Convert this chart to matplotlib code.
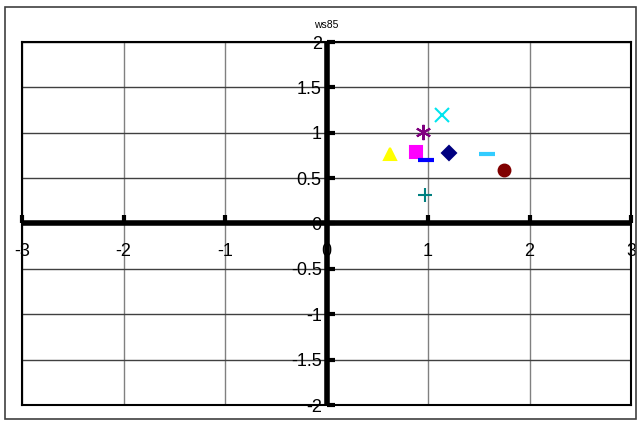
import matplotlib.pyplot as plt
from matplotlib.patches import Rectangle

# series values
x_vals = [1.14, 0.95, 0.63, 0.88, 0.98, 1.21, 1.58, 1.75, 0.97]
y_vals = [1.20, 1.01, 0.77, 0.79, 0.70, 0.78, 0.77, 0.59, 0.31]
markers = ['x', (6, 2, 0), '^', 's', '_', 'D', '_', 'o', '+']
colors = ['#00E5EE', '#800080', '#FFFF00', '#FF00FF', '#0000FF',
          '#000080', '#33CCFF', '#800000', '#008080']

x_ticks = [-3, -2, -1, 0, 1, 2, 3]
y_ticks = [-2, -1.5, -1, -0.5, 0, 0.5, 1, 1.5, 2]
title = 'ws85'


def fmt(v):
    return ('%g' % v)


def main():
    fig = plt.figure(figsize=(6.41, 4.23), dpi=100)
    plt.rcParams['font.family'] = ['Liberation Sans', 'DejaVu Sans']

    # outer chart border
    fig.patches.append(Rectangle((5 / 641, 4 / 423), 631 / 641, 412 / 423,
                                 transform=fig.transFigure, fill=False,
                                 edgecolor='#404040', linewidth=1.2))

    ax = fig.add_axes([22 / 641, 18 / 423, 609 / 641, 363 / 423])
    ax.set_xlim(-3, 3)
    ax.set_ylim(-2, 2)
    ax.set_xticks([])
    ax.set_yticks([])
    for s in ax.spines.values():
        s.set_linewidth(1.5)
        s.set_color('black')

    # gridlines
    for x in x_ticks:
        ax.axvline(x, color='#808080', linewidth=1, zorder=1)
    for y in y_ticks:
        ax.axhline(y, color='#404040', linewidth=1, zorder=1)

    # thick axes through the origin, with tick stubs
    ax.axhline(0, color='black', linewidth=4, zorder=2)
    ax.axvline(0, color='black', linewidth=4, zorder=2)
    ax.plot(x_ticks, [0] * len(x_ticks), linestyle='none',
            marker=[(0, 0), (0, 1)], markersize=11, markeredgewidth=3,
            color='black', zorder=2, clip_on=False)
    ax.plot([0] * len(y_ticks), y_ticks, linestyle='none',
            marker=[(0, 0), (1, 0)], markersize=11, markeredgewidth=3,
            color='black', zorder=2, clip_on=False)

    # tick labels
    for x in x_ticks:
        ax.annotate(fmt(x), (x, 0), xytext=(0, -20.5),
                    textcoords='offset points', ha='center', va='center',
                    fontsize=13, zorder=1, annotation_clip=False)
    for y in y_ticks:
        ax.annotate(fmt(y), (0, y), xytext=(-3.5, -1.5),
                    textcoords='offset points', ha='right', va='center',
                    fontsize=13, zorder=3, annotation_clip=False)

    # series
    for x, y, m, c in zip(x_vals, y_vals, markers, colors):
        size = 9
        mew = 1.5
        if m == '_':
            size, mew = 11, 3
        elif m in ('x', '+'):
            size, mew = 10, 1.5
        elif m == 'D':
            size = 7.5
        elif m == 'o':
            size = 8.5
        elif m == 's':
            size = 8
        elif isinstance(m, tuple):
            size, mew = 11, 1.5
        ax.plot([x], [y], linestyle='none', marker=m, markersize=size,
                color=c, markeredgecolor=c, markeredgewidth=mew, zorder=4)

    fig.text(326 / 641, 1 - 25 / 423, title, ha='center', va='center',
             fontsize=7.5)

    fig.savefig('out.png', dpi=100)


if __name__ == "__main__":
    main()
